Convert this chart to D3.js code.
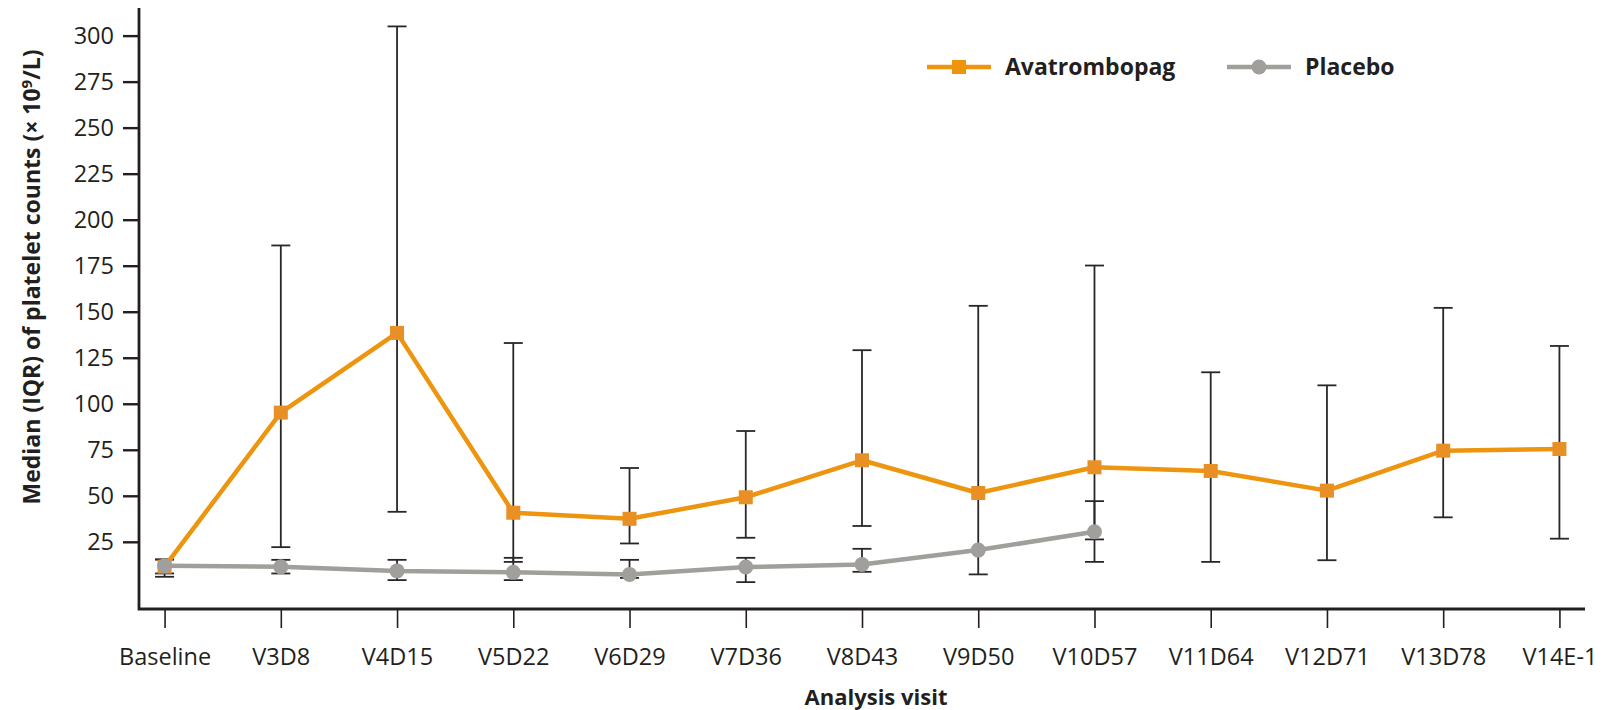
<!DOCTYPE html>
<html>
<head>
<meta charset="utf-8">
<script src="https://cdn.jsdelivr.net/npm/d3@7"></script>
<style>
    body { margin: 0; background: #fff; }
    text { font-family: "Open Sans", sans-serif; fill: #231f20; }
    .tick text { font-size: 23.5px; }
    .title { font-size: 22px; font-weight: bold; }
    .ytitle { font-size: 23px; }
    .legend text { font-size: 23px; font-weight: bold; }
</style>
</head>
<body>
<script>
const WIDTH = 1604
const HEIGHT = 710
const ORANGE = "#ee9510"
const ORANGE_MARK = "#e88f26"
const GREY = "#a09f9b"

var visits = ["Baseline","V3D8","V4D15","V5D22","V6D29","V7D36","V8D43","V9D50","V10D57","V11D64","V12D71","V13D78","V14E-1"];
var yTicks = [25,50,75,100,125,150,175,200,225,250,275,300];

var avaMedian = [11.5, 95.2, 138.5, 40.8, 37.5, 49.2, 69.3, 51.5, 65.5, 63.5, 52.8, 74.5, 75.4];
var avaQ1     = [6.0, 22.1, 41.3, 14.1, 24.1, 27.2, 33.6, 7.3, 14.1, 14.1, 15.0, 38.3, 26.7];
var avaQ3     = [15.4, 186, 305, 133, 65.1, 85.2, 129.1, 153.2, 175.1, 117.1, 110, 152.1, 131.4];

var plaMedian = [12, 11.4, 9.2, 8.4, 7.3, 11.3, 12.7, 20.5, 30.5];
var plaQ1     = [7.8, 7.8, 4.2, 4.2, 5.4, 3.1, 8.7, null, 26.3];
var plaQ3     = [15.4, 15.2, 15.2, 16.3, 15.2, 16.3, 21.2, null, 47.1];

var x = d3.scalePoint().domain(visits).range([139,1585]).padding(0.22);
var y = d3.scaleLinear().domain([-11.5,315]).range([609,8]);

var series = function(median, q1, q3){
    return median.map(function(m,i){
        return {visit: visits[i], median: m, q1: q1[i], q3: q3[i]};
    });
}

var createChart = function(){
    var svg = d3.select("body").append("svg")
                .attr("width",WIDTH)
                .attr("height",HEIGHT);

    createAxes(svg);

    var ava = series(avaMedian, avaQ1, avaQ3);
    var pla = series(plaMedian, plaQ1, plaQ3);

    createErrorBars(svg, ava);
    createErrorBars(svg, pla);
    createLine(svg, ava, ORANGE);
    createSquares(svg, ava);
    createLine(svg, pla, GREY);
    createCircles(svg, pla);
    createLegend(svg);
}

var createAxes = function(svg){
    var xAxis = svg.append("g")
        .attr("transform","translate(0,609)")
        .call(d3.axisBottom(x).tickSize(19).tickSizeOuter(0).tickPadding(20));
    xAxis.select(".domain").remove();
    xAxis.selectAll(".tick line").attr("stroke","#231f20").attr("stroke-width",1.6);

    var yAxis = svg.append("g")
        .attr("transform","translate(139,0)")
        .call(d3.axisLeft(y).tickValues(yTicks).tickSize(16).tickPadding(9));
    yAxis.select(".domain").remove();
    yAxis.selectAll(".tick line").attr("stroke","#231f20").attr("stroke-width",2.4);
    yAxis.selectAll(".tick text").attr("dy","0.34em");

    svg.append("path")
        .attr("d","M139," + y.range()[1] + "V609H1585")
        .attr("fill","none")
        .attr("stroke","#231f20")
        .attr("stroke-width",2.8);

    svg.append("text")
        .classed("title",true)
        .attr("x",876)
        .attr("y",705)
        .attr("text-anchor","middle")
        .text("Analysis visit");

    var yTitle = svg.append("text")
        .classed("title ytitle",true)
        .attr("transform","translate(40,277) rotate(-90)")
        .attr("text-anchor","middle");
    yTitle.append("tspan").text("Median (IQR) of platelet counts (× 10");
    yTitle.append("tspan").attr("dy",-8).style("font-size","15px").text("9");
    yTitle.append("tspan").attr("dy",8).text("/L)");
}

var createErrorBars = function(svg, data){
    var g = svg.append("g")
        .attr("stroke","#2a2627")
        .attr("stroke-width",1.8);
    var rows = data.filter(function(d){ return d.q1 != null; });
    g.selectAll(".stem").data(rows).enter().append("line")
        .attr("x1",function(d){ return x(d.visit); })
        .attr("x2",function(d){ return x(d.visit); })
        .attr("y1",function(d){ return y(d.q3); })
        .attr("y2",function(d){ return y(d.q1); });
    ["q1","q3"].forEach(function(k){
        g.selectAll(".cap-" + k).data(rows).enter().append("line")
            .attr("x1",function(d){ return x(d.visit) - 9.5; })
            .attr("x2",function(d){ return x(d.visit) + 9.5; })
            .attr("y1",function(d){ return y(d[k]); })
            .attr("y2",function(d){ return y(d[k]); });
    });
}

var createLine = function(svg, data, colour){
    var line = d3.line()
        .x(function(d){ return x(d.visit); })
        .y(function(d){ return y(d.median); });
    svg.append("path")
        .datum(data)
        .attr("d",line)
        .attr("fill","none")
        .attr("stroke",colour)
        .attr("stroke-width",4.5)
        .attr("stroke-linejoin","round");
}

var createSquares = function(svg, data){
    svg.selectAll(".square").data(data).enter().append("rect")
        .attr("x",function(d){ return x(d.visit) - 7; })
        .attr("y",function(d){ return y(d.median) - 7; })
        .attr("width",14)
        .attr("height",14)
        .attr("fill",ORANGE_MARK);
}

var createCircles = function(svg, data){
    svg.selectAll(".dot").data(data).enter().append("circle")
        .attr("cx",function(d){ return x(d.visit); })
        .attr("cy",function(d){ return y(d.median); })
        .attr("r",7.5)
        .attr("fill",GREY);
}

var createLegend = function(svg){
    var g = svg.append("g").classed("legend",true);
    g.append("line").attr("x1",927).attr("x2",991).attr("y1",67).attr("y2",67)
        .attr("stroke",ORANGE).attr("stroke-width",4.5);
    g.append("rect").attr("x",952).attr("y",60).attr("width",14).attr("height",14)
        .attr("fill",ORANGE);
    g.append("text").attr("x",1005).attr("y",75).text("Avatrombopag");

    g.append("line").attr("x1",1227).attr("x2",1291).attr("y1",67).attr("y2",67)
        .attr("stroke",GREY).attr("stroke-width",4.5);
    g.append("circle").attr("cx",1259).attr("cy",67).attr("r",7.5)
        .attr("fill",GREY);
    g.append("text").attr("x",1305).attr("y",75).text("Placebo");
}

createChart();
</script>
</body>
</html>
